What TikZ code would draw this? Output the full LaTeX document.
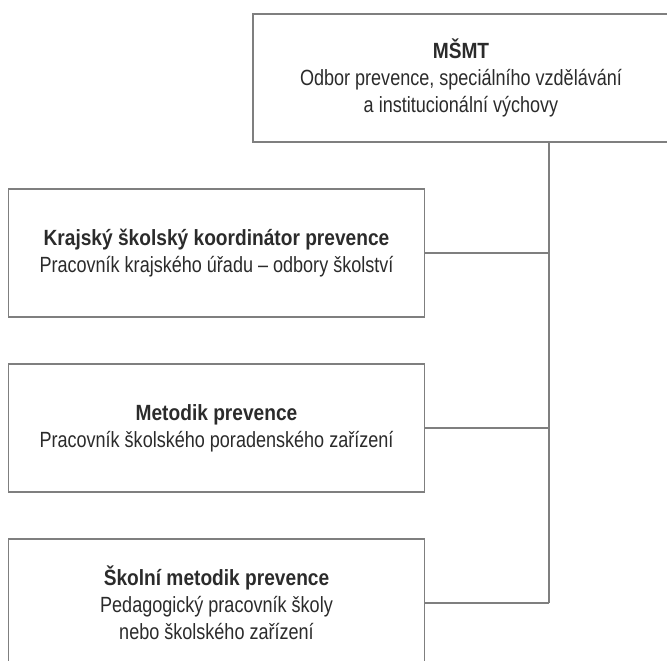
\documentclass[tikz,border=0pt]{standalone}
\usepackage{fontspec}
\setmainfont[FakeStretch=0.82,BoldFeatures={FakeStretch=0.87}]{Liberation Sans}
\definecolor{txt}{HTML}{2B2B2B}
\definecolor{ln}{HTML}{7F7F7F}
\begin{document}
\begin{tikzpicture}[x=1pt,y=-1pt,
  box/.style={draw=ln, line width=1.4pt, minimum width=416pt, minimum height=128pt,
    inner sep=0pt, align=center, text=txt, font=\fontsize{22}{27}\selectfont},
  conn/.style={draw=ln, line width=1.4pt}]
\clip (0,0) rectangle (667,661);
\node[box] (b1) at (461,78) {\textbf{MŠMT}\\Odbor prevence, speciálního vzdělávání\\a institucionální výchovy};
\node[box] (b2) at (216.5,253) {\textbf{Krajský školský koordinátor prevence}\\Pracovník krajského úřadu – odbory školství};
\node[box] (b3) at (216.5,428) {\textbf{Metodik prevence}\\Pracovník školského poradenského zařízení};
\node[box] (b4) at (216.5,603) {\textbf{Školní metodik prevence}\\Pedagogický pracovník školy\\nebo školského zařízení};
\coordinate (vt) at (549,142);
\coordinate (vb) at (549,603);
\draw[conn] (b1.south -| vt) -- (vb);
\draw[conn] (b2.east) -- (b2.east -| vt);
\draw[conn] (b3.east) -- (b3.east -| vt);
\draw[conn] (b4.east) -- (vb);
\end{tikzpicture}
\end{document}
